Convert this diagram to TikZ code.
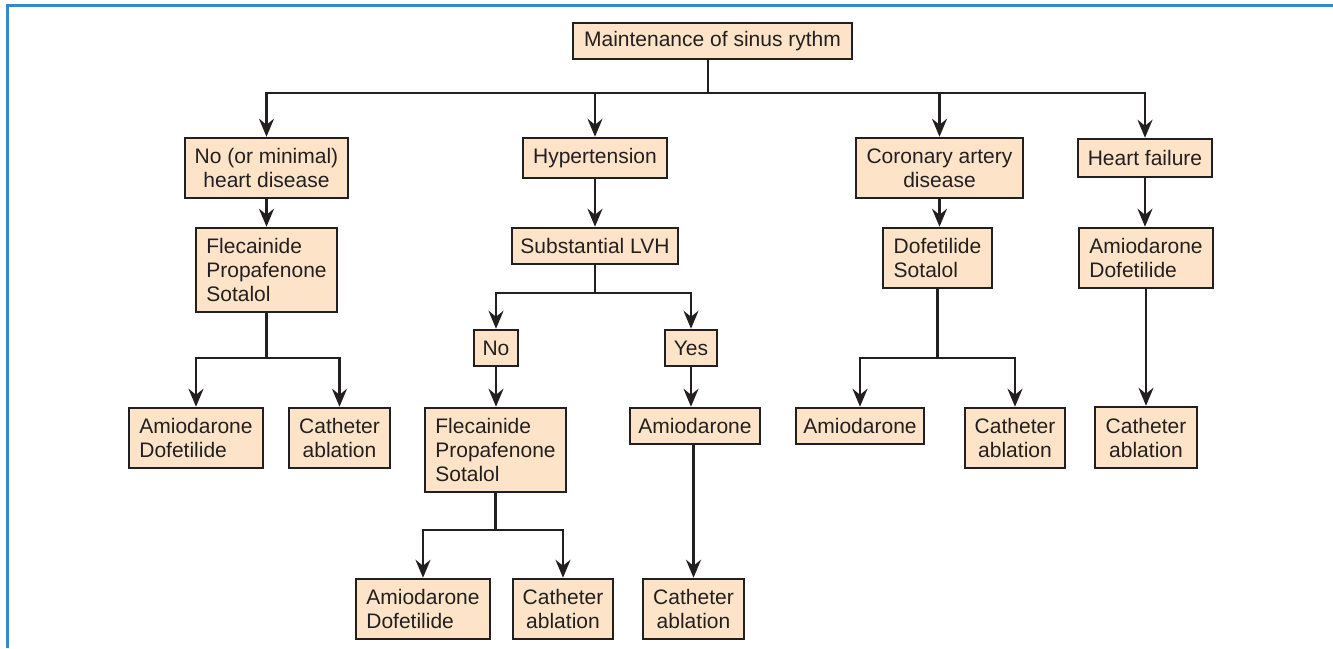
\documentclass[tikz,border=0pt]{standalone}
\usepackage{fontspec}
\setmainfont{Liberation Sans}
\usetikzlibrary{arrows.meta}
\definecolor{boxfill}{RGB}{253,228,200}
\definecolor{ink}{RGB}{35,31,32}
\definecolor{framecol}{RGB}{52,136,206}
\begin{document}
\begin{tikzpicture}[x=1pt,y=-1pt,
  every node/.style={font=\fontsize{21}{24}\selectfont, text=ink},
  box/.style={draw=ink, line width=2.5pt, fill=boxfill, inner sep=0pt, align=center},
  lbox/.style={box, align=left},
  conn/.style={draw=ink, line width=2.3pt},
  arr/.style={conn, -{Stealth[length=18pt,width=15pt,inset=6pt]}},
  frameline/.style={draw=framecol, line width=2.6pt}
]
\useasboundingbox (0,0) rectangle (1333,648);
% outer frame (left and top edges)
\draw[frameline] (7.5,648) -- (7.5,5.5) -- (1333,5.5);

% root
\node[box, minimum width=279pt, minimum height=36pt] (top) at (712.5,41) {Maintenance of sinus rythm};

% first level
\node[box, minimum width=163pt, minimum height=60pt] (nomin) at (266.5,168) {No (or minimal)\\heart disease};
\node[box, minimum width=144pt, minimum height=40pt] (hyp) at (595,158) {Hypertension};
\node[box, minimum width=167pt, minimum height=60pt] (cad) at (939.5,168) {Coronary artery\\disease};
\node[box, minimum width=134pt, minimum height=38pt] (hf) at (1145,158) {Heart failure};

% second level
\node[lbox, minimum width=141pt, minimum height=84pt] (fleA) at (266.5,270) {Flecainide\\Propafenone\\Sotalol};
\node[box, minimum width=166pt, minimum height=36pt] (lvh) at (595,246) {Substantial LVH};
\node[lbox, minimum width=109pt, minimum height=60pt] (dofsot) at (937.5,258) {Dofetilide\\Sotalol};
\node[lbox, minimum width=134pt, minimum height=60pt] (amdofH) at (1146,258) {Amiodarone\\Dofetilide};

% no / minimal heart disease branch
\node[lbox, minimum width=134pt, minimum height=60pt] (amdofA) at (196,438) {Amiodarone\\Dofetilide};
\node[box, minimum width=101pt, minimum height=60pt] (cathA) at (339.5,438) {Catheter\\ablation};

% hypertension branch
\node[box, minimum width=44pt, minimum height=36pt] (no) at (496,348) {No};
\node[box, minimum width=52pt, minimum height=36pt] (yes) at (691,348) {Yes};
\node[lbox, minimum width=141pt, minimum height=84pt] (fleB) at (495.5,450) {Flecainide\\Propafenone\\Sotalol};
\node[box, minimum width=130pt, minimum height=36pt] (amioY) at (695,426) {Amiodarone};
\node[lbox, minimum width=134pt, minimum height=60pt] (amdofB) at (423,609) {Amiodarone\\Dofetilide};
\node[box, minimum width=100pt, minimum height=60pt] (cathB) at (563,609) {Catheter\\ablation};
\node[box, minimum width=101pt, minimum height=60pt] (cathY) at (693.5,609) {Catheter\\ablation};

% coronary artery disease branch
\node[box, minimum width=128pt, minimum height=36pt] (amioC) at (860,426) {Amiodarone};
\node[box, minimum width=100pt, minimum height=60pt] (cathC) at (1015,438) {Catheter\\ablation};

% heart failure branch
\node[box, minimum width=102pt, minimum height=61pt] (cathH) at (1146,437.5) {Catheter\\ablation};

% bus from the root
\coordinate (busA) at (708,93);
\draw[conn] (top.south -| busA) -- (busA);
\draw[conn, line cap=rect] (nomin.north |- busA) -- (hf.north |- busA);
\foreach \n in {nomin,hyp,cad,hf}
  \draw[arr] (\n.north |- busA) -- (\n.north);

% straight links
\draw[arr] (nomin.south) -- (nomin.south |- fleA.north);
\draw[arr] (hyp.south) -- (hyp.south |- lvh.north);
\draw[arr] (cad.south) -- (cad.south |- dofsot.north);
\draw[arr] (hf.south) -- (hf.south |- amdofH.north);
\draw[arr] (amdofH.south) -- (amdofH.south |- cathH.north);
\draw[arr] (no.south) -- (no.south |- fleB.north);
\draw[arr] (yes.south) -- (yes.south |- amioY.north);
\draw[arr] (amioY.south -| cathY.north) -- (cathY.north);

% split below first flecainide box
\coordinate (busB) at (266.5,358);
\draw[conn] (fleA.south) -- (busB);
\draw[conn, line cap=rect] (amdofA.north |- busB) -- (cathA.north |- busB);
\draw[arr] (amdofA.north |- busB) -- (amdofA.north);
\draw[arr] (cathA.north |- busB) -- (cathA.north);

% split below substantial LVH
\coordinate (busC) at (595,293);
\draw[conn] (lvh.south) -- (busC);
\draw[conn, line cap=rect] (no.north |- busC) -- (yes.north |- busC);
\draw[arr] (no.north |- busC) -- (no.north);
\draw[arr] (yes.north |- busC) -- (yes.north);

% split below second flecainide box
\coordinate (busD) at (495.5,530);
\draw[conn] (fleB.south) -- (busD);
\draw[conn, line cap=rect] (amdofB.north |- busD) -- (cathB.north |- busD);
\draw[arr] (amdofB.north |- busD) -- (amdofB.north);
\draw[arr] (cathB.north |- busD) -- (cathB.north);

% split below dofetilide / sotalol
\coordinate (busE) at (937.5,358);
\draw[conn] (dofsot.south) -- (busE);
\draw[conn, line cap=rect] (amioC.north |- busE) -- (cathC.north |- busE);
\draw[arr] (amioC.north |- busE) -- (amioC.north);
\draw[arr] (cathC.north |- busE) -- (cathC.north);
\end{tikzpicture}
\end{document}
